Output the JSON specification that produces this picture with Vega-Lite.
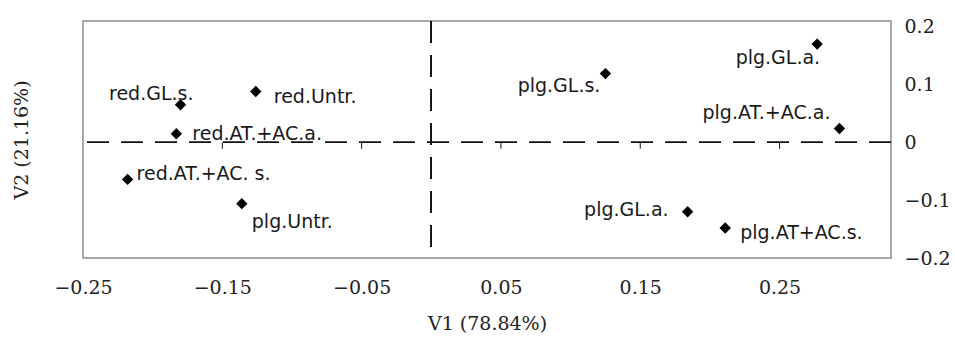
{
  "$schema": "https://vega.github.io/schema/vega-lite/v6.json",
  "width": 808,
  "height": 237,
  "autosize": {"type": "none"},
  "padding": {"left": 83, "top": 21, "right": 64, "bottom": 80},
  "background": "white",
  "config": {
    "view": {"stroke": "#8c8c8c", "strokeWidth": 1.5},
    "text": {"font": "DejaVu Sans", "fontSize": 19, "color": "#1a1a1a", "baseline": "alphabetic"}
  },
  "datasets": {
    "pts": [
      {"id": 1, "label": "red.GL.s.", "v1": -0.180, "v2": 0.065},
      {"id": 2, "label": "red.Untr.", "v1": -0.126, "v2": 0.088},
      {"id": 3, "label": "red.AT.+AC.a.", "v1": -0.183, "v2": 0.015},
      {"id": 4, "label": "red.AT.+AC. s.", "v1": -0.218, "v2": -0.064},
      {"id": 5, "label": "plg.Untr.", "v1": -0.136, "v2": -0.106},
      {"id": 6, "label": "plg.GL.s.", "v1": 0.125, "v2": 0.119},
      {"id": 7, "label": "plg.GL.a.", "v1": 0.277, "v2": 0.170},
      {"id": 8, "label": "plg.AT.+AC.a.", "v1": 0.293, "v2": 0.024},
      {"id": 9, "label": "plg.GL.a.", "v1": 0.184, "v2": -0.120},
      {"id": 10, "label": "plg.AT+AC.s.", "v1": 0.211, "v2": -0.148}
    ],
    "ticks": [{"t": -0.15}, {"t": -0.05}, {"t": 0.05}, {"t": 0.15}, {"t": 0.25}]
  },
  "data": {"name": "pts"},
  "layer": [
    {
      "mark": {"type": "rule", "color": "#111", "strokeWidth": 1, "strokeDash": [22, 12]},
      "encoding": {
        "y": {
          "datum": 0,
          "type": "quantitative",
          "scale": {"domain": [-0.2, 0.21], "nice": false, "zero": false},
          "axis": {
            "orient": "left", "title": "V2 (21.16%)", "labels": false, "ticks": false, "tickSize": 0,
            "domain": false, "grid": false, "titlePadding": 52,
            "titleFont": "DejaVu Serif", "titleFontSize": 19, "titleFontWeight": "normal", "titleColor": "#222"
          }
        }
      }
    },
    {
      "mark": {"type": "rule", "color": "#111", "strokeWidth": 1, "strokeDash": [22, 12]},
      "encoding": {
        "x": {"datum": 0, "type": "quantitative", "scale": {"domain": [-0.25, 0.33], "nice": false, "zero": false}, "axis": null}
      }
    },
    {
      "data": {"name": "ticks"},
      "mark": {"type": "rule", "color": "#111", "strokeWidth": 1},
      "encoding": {
        "x": {"field": "t", "type": "quantitative", "scale": {"domain": [-0.25, 0.33], "nice": false, "zero": false}, "axis": null},
        "y": {"datum": 0, "type": "quantitative", "axis": null},
        "y2": {"datum": -0.011}
      }
    },
    {
      "mark": {"type": "point", "shape": "diamond", "filled": true, "size": 130, "color": "#000", "opacity": 1},
      "encoding": {
        "x": {
          "field": "v1", "type": "quantitative",
          "scale": {"domain": [-0.25, 0.33], "nice": false, "zero": false},
          "axis": {
            "orient": "bottom", "title": "V1 (78.84%)", "values": [-0.25, -0.15, -0.05, 0.05, 0.15, 0.25],
            "format": ".2f", "labelPadding": 20, "ticks": false, "tickSize": 0, "domain": false, "grid": false,
            "labelFlush": false, "labelOverlap": false, "labelBound": false,
            "labelFont": "DejaVu Serif", "labelFontSize": 19, "labelColor": "#222",
            "titleFont": "DejaVu Serif", "titleFontSize": 19, "titleFontWeight": "normal", "titleColor": "#222",
            "titlePadding": 17
          }
        },
        "y": {
          "field": "v2", "type": "quantitative",
          "scale": {"domain": [-0.2, 0.21], "nice": false, "zero": false},
          "axis": {
            "orient": "right", "title": null, "values": [-0.2, -0.1, 0, 0.1, 0.2], "format": ".1~f",
            "labelPadding": 13, "ticks": false, "tickSize": 0, "domain": false, "grid": false,
            "labelOverlap": false, "labelBound": false, "labelFlush": false,
            "labelFont": "DejaVu Serif", "labelFontSize": 19, "labelColor": "#222"
          }
        }
      }
    },
    {
      "transform": [{"filter": "datum.id == 1"}],
      "mark": {"type": "text", "align": "right", "dx": 13, "dy": -5},
      "encoding": {"x": {"field": "v1", "type": "quantitative", "axis": null}, "y": {"field": "v2", "type": "quantitative", "axis": null}, "text": {"field": "label"}}
    },
    {
      "transform": [{"filter": "datum.id == 2"}],
      "mark": {"type": "text", "align": "left", "dx": 18, "dy": 11},
      "encoding": {"x": {"field": "v1", "type": "quantitative", "axis": null}, "y": {"field": "v2", "type": "quantitative", "axis": null}, "text": {"field": "label"}}
    },
    {
      "transform": [{"filter": "datum.id == 3"}],
      "mark": {"type": "text", "align": "left", "dx": 16, "dy": 6},
      "encoding": {"x": {"field": "v1", "type": "quantitative", "axis": null}, "y": {"field": "v2", "type": "quantitative", "axis": null}, "text": {"field": "label"}}
    },
    {
      "transform": [{"filter": "datum.id == 4"}],
      "mark": {"type": "text", "align": "left", "dx": 9, "dy": 1},
      "encoding": {"x": {"field": "v1", "type": "quantitative", "axis": null}, "y": {"field": "v2", "type": "quantitative", "axis": null}, "text": {"field": "label"}}
    },
    {
      "transform": [{"filter": "datum.id == 5"}],
      "mark": {"type": "text", "align": "left", "dx": 10, "dy": 24},
      "encoding": {"x": {"field": "v1", "type": "quantitative", "axis": null}, "y": {"field": "v2", "type": "quantitative", "axis": null}, "text": {"field": "label"}}
    },
    {
      "transform": [{"filter": "datum.id == 6"}],
      "mark": {"type": "text", "align": "right", "dx": -5, "dy": 18},
      "encoding": {"x": {"field": "v1", "type": "quantitative", "axis": null}, "y": {"field": "v2", "type": "quantitative", "axis": null}, "text": {"field": "label"}}
    },
    {
      "transform": [{"filter": "datum.id == 7"}],
      "mark": {"type": "text", "align": "right", "dx": 3, "dy": 20},
      "encoding": {"x": {"field": "v1", "type": "quantitative", "axis": null}, "y": {"field": "v2", "type": "quantitative", "axis": null}, "text": {"field": "label"}}
    },
    {
      "transform": [{"filter": "datum.id == 8"}],
      "mark": {"type": "text", "align": "right", "dx": -9, "dy": -10},
      "encoding": {"x": {"field": "v1", "type": "quantitative", "axis": null}, "y": {"field": "v2", "type": "quantitative", "axis": null}, "text": {"field": "label"}}
    },
    {
      "transform": [{"filter": "datum.id == 9"}],
      "mark": {"type": "text", "align": "right", "dx": -19, "dy": 4},
      "encoding": {"x": {"field": "v1", "type": "quantitative", "axis": null}, "y": {"field": "v2", "type": "quantitative", "axis": null}, "text": {"field": "label"}}
    },
    {
      "transform": [{"filter": "datum.id == 10"}],
      "mark": {"type": "text", "align": "left", "dx": 15, "dy": 11},
      "encoding": {"x": {"field": "v1", "type": "quantitative", "axis": null}, "y": {"field": "v2", "type": "quantitative", "axis": null}, "text": {"field": "label"}}
    }
  ],
  "resolve": {"axis": {"x": "independent", "y": "independent"}}
}
